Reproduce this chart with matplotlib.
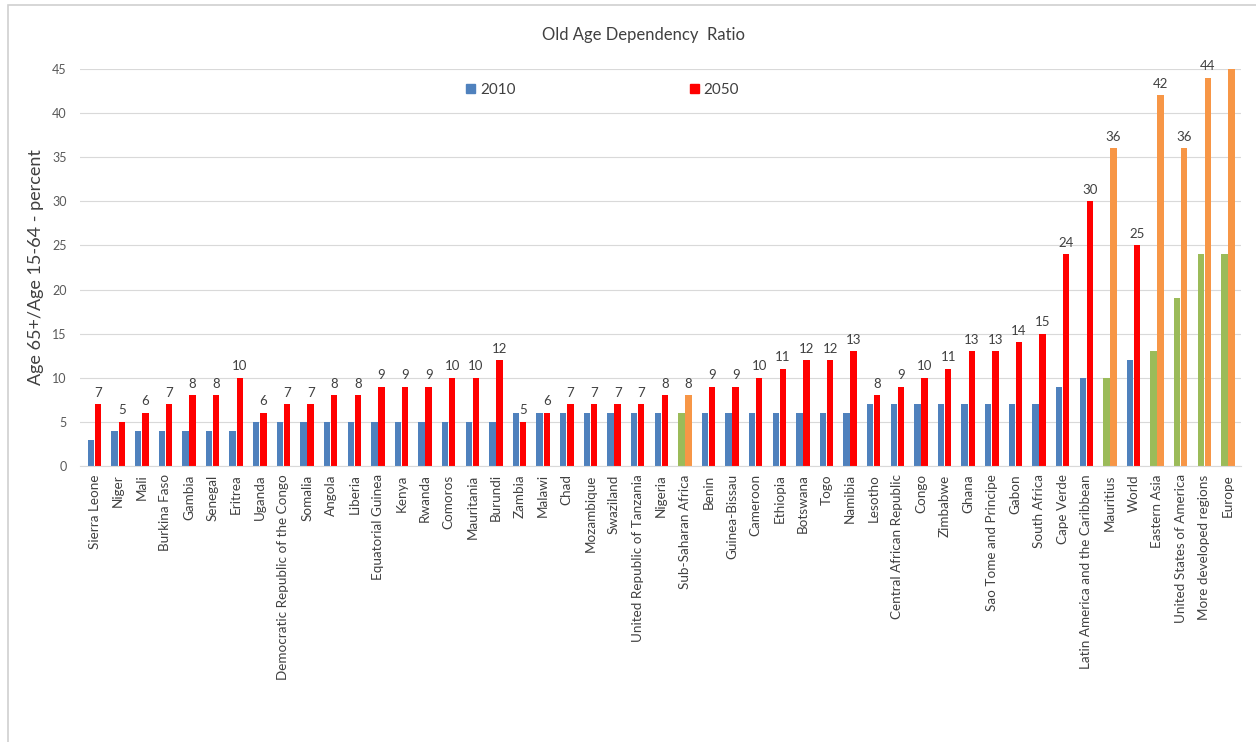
import numpy as np
import matplotlib
matplotlib.use("Agg")
import matplotlib.pyplot as plt
from matplotlib.patches import Rectangle

plt.rcParams['font.family'] = ['Lato', 'DejaVu Sans']

# data
categories = ["Sierra Leone", "Niger", "Mali", "Burkina Faso", "Gambia", "Senegal", "Eritrea",
               "Uganda", "Democratic Republic of the Congo", "Somalia", "Angola", "Liberia",
               "Equatorial Guinea", "Kenya", "Rwanda", "Comoros", "Mauritania", "Burundi",
               "Zambia", "Malawi", "Chad", "Mozambique", "Swaziland",
               "United Republic of Tanzania", "Nigeria", "Sub-Saharan Africa", "Benin",
               "Guinea-Bissau", "Cameroon", "Ethiopia", "Botswana", "Togo", "Namibia",
               "Lesotho", "Central African Republic", "Congo", "Zimbabwe", "Ghana",
               "Sao Tome and Principe", "Gabon", "South Africa", "Cape Verde",
               "Latin America and the Caribbean", "Mauritius", "World", "Eastern Asia",
               "United States of America", "More developed regions", "Europe"]
y2010 = [3, 4, 4, 4, 4, 4, 4, 5, 5, 5, 5, 5, 5, 5, 5, 5, 5, 5, 6, 6, 6, 6, 6, 6, 6, 6,
         6, 6, 6, 6, 6, 6, 6, 7, 7, 7, 7, 7, 7, 7, 7, 9, 10, 10, 12, 13, 19, 24, 24]
y2050 = [7, 5, 6, 7, 8, 8, 10, 6, 7, 7, 8, 8, 9, 9, 9, 10, 10, 12, 5, 6, 7, 7, 7, 7, 8, 8,
         9, 9, 10, 11, 12, 12, 13, 8, 9, 10, 11, 13, 13, 14, 15, 24, 30, 36, 25, 42, 36, 44, 45]
# regions drawn in green/orange
highlighted = ["Sub-Saharan Africa", "Mauritius", "Eastern Asia",
               "United States of America", "More developed regions", "Europe"]

blue, red, green, orange = "#4F81BD", "#FF0000", "#9BBB59", "#F79646"
c2010 = [green if c in highlighted else blue for c in categories]
c2050 = [orange if c in highlighted else red for c in categories]

fig = plt.figure(figsize=(12.56, 7.42), dpi=100)
ax = fig.add_axes([0.064, 0.372, 0.924, 0.535])

x = np.arange(len(categories))
w = 0.27
ax.bar(x - 0.15, y2010, w, color=c2010, label="2010")
ax.bar(x + 0.15, y2050, w, color=c2050, label="2050")

ymax = 45
for xi, v in zip(x, y2050):
    if v >= ymax:  # label falls outside the plot area in the original
        continue
    ax.annotate(str(v), (xi + 0.15, v), xytext=(0, 4), textcoords="offset points",
                ha="center", va="bottom", fontsize=9.5, color="#404040",
                annotation_clip=False)

ax.set_ylim(0, ymax)
ax.set_xlim(-0.6, len(categories) - 0.45)
ax.set_yticks(range(0, 46, 5))
ax.tick_params(axis="y", length=0, labelsize=9, labelcolor="#595959", pad=10)
ax.set_xticks(x)
ax.set_xticklabels(categories, rotation=90, fontsize=9.7, color="#404040")
ax.tick_params(axis="x", length=0, pad=6)
ax.grid(axis="y", color="#D9D9D9", linewidth=0.8)
ax.set_axisbelow(True)
for s in ["top", "right", "left"]:
    ax.spines[s].set_visible(False)
ax.spines["bottom"].set_color("#D9D9D9")

ax.set_ylabel("Age 65+/Age 15-64 - percent", fontsize=13, color="#404040", labelpad=6)
fig.text(0.512, 0.953, "Old Age Dependency  Ratio", ha="center", va="center",
         fontsize=12, color="#404040")

leg = ax.legend(loc="upper center", bbox_to_anchor=(0.45, 1.0), ncol=2, frameon=False,
                fontsize=11, handlelength=0.6, handleheight=0.6, columnspacing=11.4,
                handletextpad=0.3, labelcolor="#404040")
leg.legend_handles[0].set_color(blue)
leg.legend_handles[1].set_color(red)

fig.patches.append(Rectangle((0.006, -0.01), 1.2, 1.003, transform=fig.transFigure,
                             fill=False, edgecolor="#D0D0D0", linewidth=1.2))

fig.savefig("out.png", dpi=100)
